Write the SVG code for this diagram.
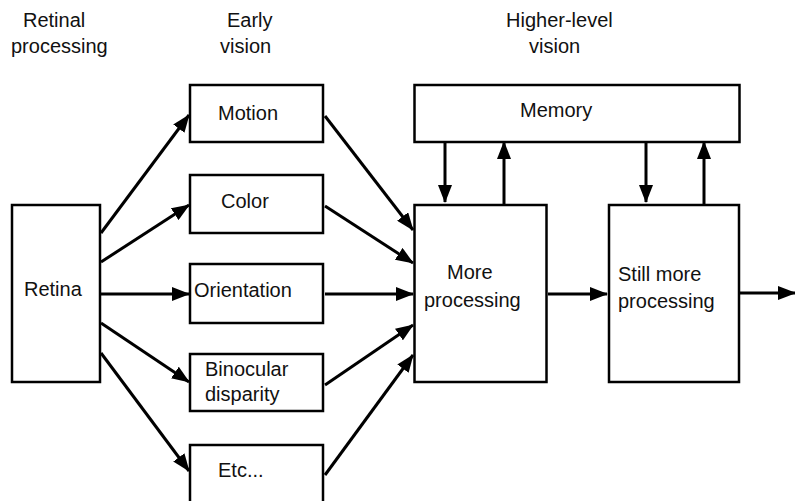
<svg xmlns="http://www.w3.org/2000/svg" width="795" height="501" viewBox="0 0 795 501">
<defs>
<marker id="ah" markerUnits="userSpaceOnUse" markerWidth="18" markerHeight="14" refX="17" refY="7" orient="auto">
<path d="M0,0 L18,7 L0,14 z" fill="#000"/>
</marker>
<style>
.box{fill:#fff;stroke:#000;stroke-width:2.5}
.lbl{font-family:"Liberation Sans",Arial,sans-serif;font-size:20px;fill:#111}
.con{fill:none;stroke:#000;stroke-width:3;marker-end:url(#ah)}
</style>
</defs>
<rect width="795" height="501" fill="#fff"/>
<g id="headers">
<text class="lbl" x="23" y="27">Retinal</text>
<text class="lbl" x="11" y="53">processing</text>
<text class="lbl" x="227" y="27">Early</text>
<text class="lbl" x="220" y="53">vision</text>
<text class="lbl" x="506" y="27">Higher-level</text>
<text class="lbl" x="529" y="53">vision</text>
</g>
<g id="connectors">
<line class="con" x1="101" y1="233" x2="189" y2="115"/>
<line class="con" x1="101" y1="262" x2="189" y2="205"/>
<line class="con" x1="101" y1="294" x2="189" y2="294"/>
<line class="con" x1="101" y1="323" x2="189" y2="382"/>
<line class="con" x1="101" y1="353" x2="189" y2="471"/>
<line class="con" x1="325" y1="116" x2="413" y2="230"/>
<line class="con" x1="325" y1="206" x2="413" y2="263"/>
<line class="con" x1="325" y1="294" x2="413" y2="294"/>
<line class="con" x1="325" y1="385" x2="413" y2="325"/>
<line class="con" x1="325" y1="475" x2="413" y2="355"/>
<line class="con" x1="548" y1="294" x2="607" y2="294"/>
<line class="con" x1="740" y1="293" x2="795" y2="293"/>
<line class="con" x1="445" y1="143" x2="445" y2="202"/>
<line class="con" x1="504" y1="204" x2="504" y2="142"/>
<line class="con" x1="646" y1="143" x2="646" y2="202"/>
<line class="con" x1="704" y1="204" x2="704" y2="142"/>
</g>
<g id="retina">
<rect class="box" x="12" y="205" width="88" height="177"/>
<text class="lbl" x="24" y="296">Retina</text>
</g>
<g id="motion">
<rect class="box" x="190" y="85" width="133" height="57"/>
<text class="lbl" x="218" y="120">Motion</text>
</g>
<g id="color">
<rect class="box" x="190" y="175" width="133" height="58"/>
<text class="lbl" x="221" y="208">Color</text>
</g>
<g id="orientation">
<rect class="box" x="190" y="264" width="133" height="59"/>
<text class="lbl" x="194" y="297">Orientation</text>
</g>
<g id="binocular">
<rect class="box" x="190" y="354" width="133" height="57"/>
<text class="lbl" x="205" y="376">Binocular</text>
<text class="lbl" x="205" y="401">disparity</text>
</g>
<g id="etc">
<rect class="box" x="190" y="445" width="133" height="70"/>
<text class="lbl" x="218" y="477">Etc...</text>
</g>
<g id="memory">
<rect class="box" x="414.5" y="85" width="325" height="57"/>
<text class="lbl" x="520" y="117">Memory</text>
</g>
<g id="more-processing">
<rect class="box" x="414.5" y="205" width="132" height="177"/>
<text class="lbl" x="447" y="279">More</text>
<text class="lbl" x="424" y="307">processing</text>
</g>
<g id="still-more-processing">
<rect class="box" x="609" y="205" width="130" height="177"/>
<text class="lbl" x="618" y="281">Still more</text>
<text class="lbl" x="618" y="308">processing</text>
</g>
</svg>
